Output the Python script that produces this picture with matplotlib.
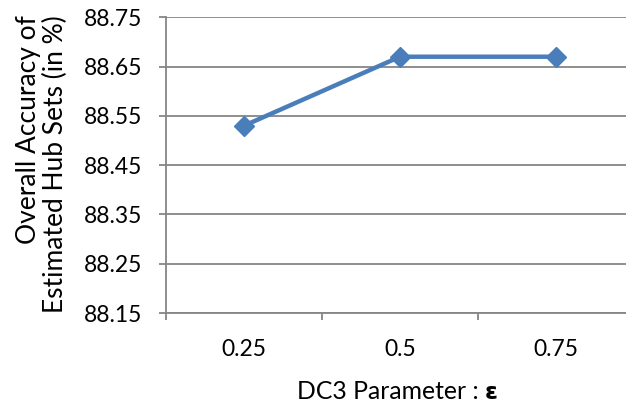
import matplotlib
matplotlib.use("Agg")
import matplotlib.pyplot as plt
from matplotlib.offsetbox import TextArea, HPacker, AnnotationBbox

# Data
categories = ["0.25", "0.5", "0.75"]
accuracy = [88.53, 88.67, 88.67]
y_ticks = [88.15, 88.25, 88.35, 88.45, 88.55, 88.65, 88.75]

plt.rcParams["font.family"] = ["Lato", "DejaVu Sans"]
FS_TICK = 16.5
FS_XLABEL = 17.8
FS_YLABEL = 19.0
GRID = "#868686"
BLUE = "#4A7EBB"

fig = plt.figure(figsize=(6.26, 4.07), dpi=100)
W, H = 626, 407
left, right, top, bottom = 166, 634, 17.3, 313
ax = fig.add_axes([left / W, 1 - bottom / H, (right - left) / W, (bottom - top) / H])

x = list(range(1, len(categories) + 1))
ax.plot(x, accuracy, color=BLUE, lw=3.2, marker="D", ms=9.8,
        markerfacecolor=BLUE, markeredgecolor=BLUE, solid_joinstyle="round", zorder=3)

ax.set_xlim(0.5, len(categories) + 0.5)
ax.set_ylim(y_ticks[0], y_ticks[-1])

# y axis
ax.set_yticks(y_ticks)
ax.set_yticklabels([f"{v:.2f}" for v in y_ticks])
ax.yaxis.grid(True, color=GRID, lw=1.3)
ax.tick_params(axis="y", direction="out", length=5, width=1.3, color=GRID,
               labelsize=FS_TICK, pad=12)

# x axis: ticks at category boundaries, labels at category centres
ax.set_xticks([i + 0.5 for i in range(len(categories) + 1)])
ax.set_xticklabels([])
ax.set_xticks(x, minor=True)
ax.set_xticklabels(categories, minor=True)
ax.tick_params(axis="x", which="major", direction="out", length=5, width=1.3, color=GRID)
ax.tick_params(axis="x", which="minor", length=0, labelsize=FS_TICK, pad=19)

for s in ["top", "right"]:
    ax.spines[s].set_visible(False)
for s in ["left", "bottom"]:
    ax.spines[s].set_color(GRID)
    ax.spines[s].set_linewidth(1.3)
ax.set_axisbelow(True)

ax.set_ylabel("Overall Accuracy of\nEstimated Hub Sets (in %)", fontsize=FS_YLABEL,
              multialignment="right", va="center", linespacing=1.1)
ax.yaxis.set_label_coords((42 - left) / (right - left), (bottom - 164) / (bottom - top))

# x label with bold epsilon
t1 = TextArea("DC3 Parameter : ", textprops=dict(fontsize=FS_XLABEL, family=["Lato", "DejaVu Sans"]))
t2 = TextArea("ε", textprops=dict(fontsize=FS_XLABEL - 1, fontweight="bold", family=["DejaVu Sans"]))
box = HPacker(children=[t1, t2], align="baseline", pad=0, sep=0)
ab = AnnotationBbox(box, (397.5 / W, 1 - 392 / H), xycoords="figure fraction",
                    frameon=False, box_alignment=(0.5, 0.5))
fig.add_artist(ab)

fig.savefig("out.png", dpi=100)
